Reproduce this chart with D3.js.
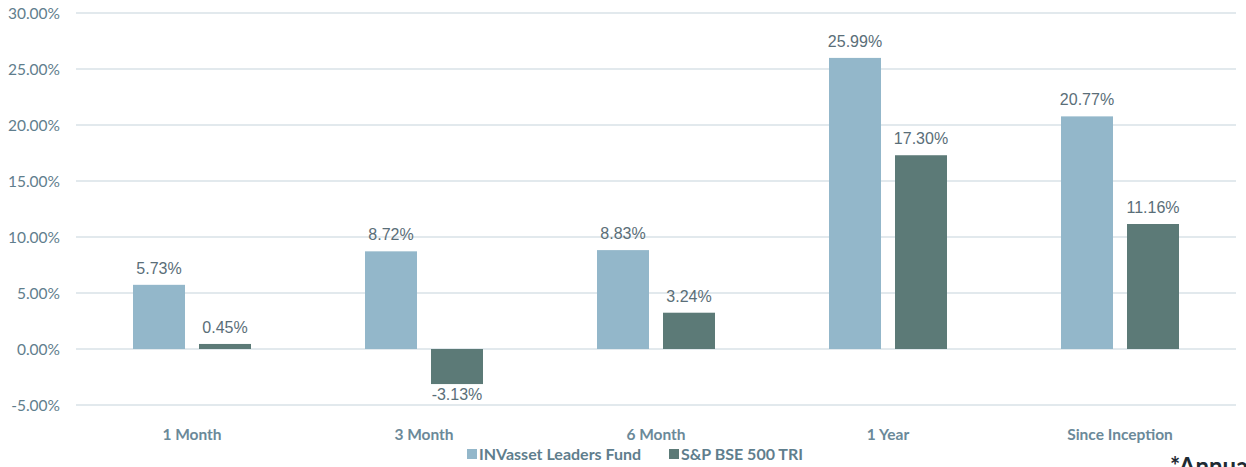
<!DOCTYPE html>
<html>
<head>
<meta charset="utf-8">
<script src="https://cdn.jsdelivr.net/npm/d3@7"></script>
<style>
  body { margin: 0; background: #fff; }
  svg { display: block; }
</style>
</head>
<body>
<script>
var width = 1246;
var height = 467;

var categories = ["1 Month", "3 Month", "6 Month", "1 Year", "Since Inception"];
var seriesNames = ["INVasset Leaders Fund", "S&P BSE 500 TRI"];
var fundValues = [5.73, 8.72, 8.83, 25.99, 20.77];
var indexValues = [0.45, -3.13, 3.24, 17.30, 11.16];
var tickValues = [-5, 0, 5, 10, 15, 20, 25, 30];
var colors = ["#93b7ca", "#5c7a77"];

var plotLeft = 76, plotRight = 1236, plotTop = 13, plotBottom = 405;

var svg = d3.select("body").append("svg")
    .attr("width", width)
    .attr("height", height);

var x = d3.scaleBand()
    .domain(categories)
    .range([plotLeft, plotRight])
    .paddingInner(0)
    .paddingOuter(0);

var y = d3.scaleLinear()
    .domain([-5, 30])
    .range([plotBottom, plotTop]);

// two bars of 52px with a 14px gap, centred in each band
var x1 = d3.scaleBand()
    .domain([0, 1])
    .range([x.bandwidth() / 2 - 59, x.bandwidth() / 2 + 59])
    .paddingInner(14 / 66)
    .paddingOuter(0);

// grid
svg.append("g").selectAll("line")
  .data(tickValues)
.enter().append("line")
  .attr("x1", plotLeft)
  .attr("x2", plotRight)
  .attr("y1", function(d) { return y(d); })
  .attr("y2", function(d) { return y(d); })
  .attr("stroke", "#d9e2e7")
  .attr("stroke-width", 1.5);

// y axis labels
var yAxis = d3.axisLeft(y)
    .tickValues(tickValues)
    .tickSize(0)
    .tickPadding(0)
    .tickFormat(function(d) { return d.toFixed(2) + "%"; });

var yg = svg.append("g")
    .attr("transform", "translate(60,0)")
    .call(yAxis);
yg.select(".domain").remove();
yg.selectAll("text")
  .attr("font-family", "Lato, sans-serif")
  .attr("font-size", 15.5)
  .attr("fill", "#5f7e8d")
  .attr("dy", "0.35em");

// x axis labels
var xAxis = d3.axisBottom(x).tickSize(0).tickPadding(0);
var xg = svg.append("g")
    .attr("transform", "translate(0,428)")
    .call(xAxis);
xg.select(".domain").remove();
xg.selectAll("text")
  .attr("font-family", "Lato, sans-serif")
  .attr("font-weight", "bold")
  .attr("font-size", 15.5)
  .attr("fill", "#6b8999")
  .attr("dy", "0.75em");

var rows = categories.map(function(c, i) {
  return { cat: c, vals: [fundValues[i], indexValues[i]] };
});

var groups = svg.selectAll(".grp")
  .data(rows)
.enter().append("g")
  .attr("class", "grp")
  .attr("transform", function(d) { return "translate(" + x(d.cat) + ",0)"; });

groups.selectAll("rect")
  .data(function(d) { return d.vals; })
.enter().append("rect")
  .attr("x", function(d, i) { return x1(i); })
  .attr("width", x1.bandwidth())
  .attr("y", function(d) { return y(Math.max(0, d)); })
  .attr("height", function(d) { return Math.abs(y(d) - y(0)); })
  .attr("fill", function(d, i) { return colors[i]; });

groups.selectAll("text")
  .data(function(d) { return d.vals; })
.enter().append("text")
  .attr("x", function(d, i) { return x1(i) + x1.bandwidth() / 2; })
  .attr("y", function(d) { return d >= 0 ? y(d) - 11 : y(d) + 16; })
  .attr("text-anchor", "middle")
  .attr("font-family", "'Liberation Sans', Arial, sans-serif")
  .attr("font-size", 16)
  .attr("fill", "#5a6e78")
  .text(function(d) { return d.toFixed(2) + "%"; });

// legend
var legendX = [467, 669];
var legend = svg.selectAll(".leg")
  .data(seriesNames)
.enter().append("g")
  .attr("class", "leg")
  .attr("transform", function(d, i) { return "translate(" + legendX[i] + ",449)"; });

legend.append("rect")
  .attr("width", 10)
  .attr("height", 10)
  .attr("fill", function(d, i) { return colors[i]; });

legend.append("text")
  .attr("x", 12)
  .attr("y", 10.5)
  .attr("font-family", "Lato, sans-serif")
  .attr("font-weight", "bold")
  .attr("font-size", 16)
  .attr("fill", "#5f7e8d")
  .text(function(d) { return d; });

svg.append("text")
  .attr("x", 1170)
  .attr("y", 475)
  .attr("font-family", "Lato, sans-serif")
  .attr("font-weight", "bold")
  .attr("font-size", 24)
  .attr("fill", "#1f2b33")
  .text("*Annualised");
</script>
</body>
</html>
